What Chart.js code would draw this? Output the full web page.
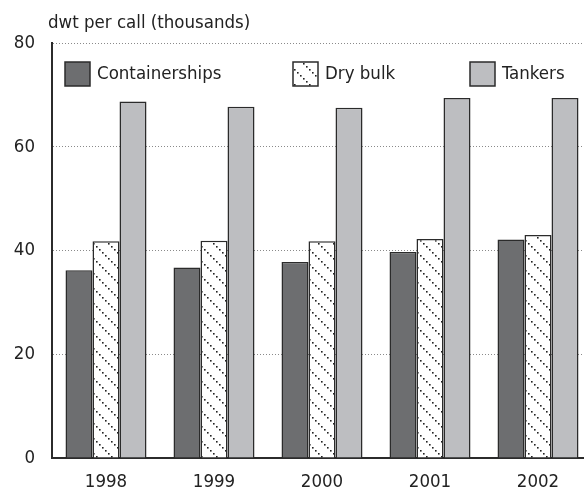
<!DOCTYPE html>
<html>
<head>
<meta charset="utf-8">
<script src="https://cdn.jsdelivr.net/npm/chart.js@4"></script>
<style>
    body { margin: 0; overflow: hidden; background: #fff; }
    #wrap { position: relative; width: 600px; height: 488px; }
</style>
</head>
<body>
<div id="wrap"><canvas id="shipChart" width="600" height="488"></canvas></div>
<script>
const years = ['1998', '1999', '2000', '2001', '2002'];
const containerships = [36.2, 36.7, 37.8, 39.7, 42.1];
const dryBulk = [41.8, 41.9, 41.8, 42.2, 43.0];
const tankers = [68.7, 67.7, 67.5, 69.4, 69.4];
const yTicks = [0, 20, 40, 60, 80];

const FONT = '"Liberation Sans Narrow", "DejaVu Sans Condensed", "Liberation Sans", sans-serif';
const TEXT = '#222';
const EDGE = '#2b2b2b';

// dotted diagonal hatch for dry bulk
function makeHatch() {
    const c = document.createElement('canvas');
    c.width = 15;
    c.height = 15;
    const g = c.getContext('2d');
    g.fillStyle = '#fff';
    g.fillRect(0, 0, 15, 15);
    g.fillStyle = '#222';
    for (let i = 0; i < 5; i++) {
        g.fillRect(i * 3, i * 3, 1.6, 1.6);
    }
    return g.createPattern(c, 'repeat');
}

const hatch = makeHatch();

const titlePlugin = {
    id: 'unitTitle',
    afterDraw(chart) {
        const ctx = chart.ctx;
        ctx.save();
        ctx.font = '18.5px ' + FONT;
        ctx.fillStyle = TEXT;
        ctx.textBaseline = 'middle';
        ctx.fillText('dwt per call (thousands)', 48, 23);
        ctx.restore();
    }
};

// legend box positions along the top of the plot
const legendX = [65, 293, 470];

const legendPlugin = {
    id: 'boxLegend',
    afterDraw(chart) {
        const ctx = chart.ctx;
        const y = 74;
        ctx.save();
        ctx.font = '18.5px ' + FONT;
        ctx.textBaseline = 'middle';
        chart.data.datasets.forEach((ds, i) => {
            const x = legendX[i];
            ctx.fillStyle = ds.backgroundColor;
            ctx.fillRect(x, y - 12, 25, 24);
            ctx.strokeStyle = EDGE;
            ctx.lineWidth = 1.5;
            ctx.strokeRect(x, y - 12, 25, 24);
            ctx.fillStyle = TEXT;
            ctx.fillText(ds.label, x + 32, y);
        });
        ctx.restore();
    }
};

new Chart(document.getElementById('shipChart'), {
    type: 'bar',
    data: {
        labels: years,
        datasets: [
            { label: 'Containerships', data: containerships, backgroundColor: '#6d6e70' },
            { label: 'Dry bulk', data: dryBulk, backgroundColor: hatch },
            { label: 'Tankers', data: tankers, backgroundColor: '#bdbec1' }
        ]
    },
    options: {
        responsive: false,
        devicePixelRatio: 1,
        animation: false,
        datasets: {
            bar: {
                borderColor: EDGE,
                borderWidth: 1.5,
                barPercentage: 1,
                categoryPercentage: 0.75
            }
        },
        layout: { padding: { top: 43, right: 8, left: 0, bottom: 0 } },
        plugins: {
            legend: { display: false },
            tooltip: { enabled: false }
        },
        scales: {
            x: {
                grid: { display: false },
                border: { display: true, color: EDGE, width: 2 },
                ticks: { color: TEXT, font: { family: FONT, size: 18.5 }, padding: 5 },
                afterFit(s) { s.height = 30; }
            },
            y: {
                min: 0,
                max: 80,
                afterBuildTicks(s) { s.ticks = yTicks.map(v => ({ value: v })); },
                grid: {
                    drawTicks: false,
                    lineWidth: 1,
                    color: c => (c.tick && c.tick.value === 0) ? 'rgba(0,0,0,0)' : '#8a8a8a'
                },
                border: { display: true, color: EDGE, width: 2, dash: [1, 2] },
                ticks: { color: TEXT, font: { family: FONT, size: 18.5 }, padding: 17 },
                afterFit(s) { s.width = 52; }
            }
        }
    },
    plugins: [titlePlugin, legendPlugin]
});
</script>
</body>
</html>
